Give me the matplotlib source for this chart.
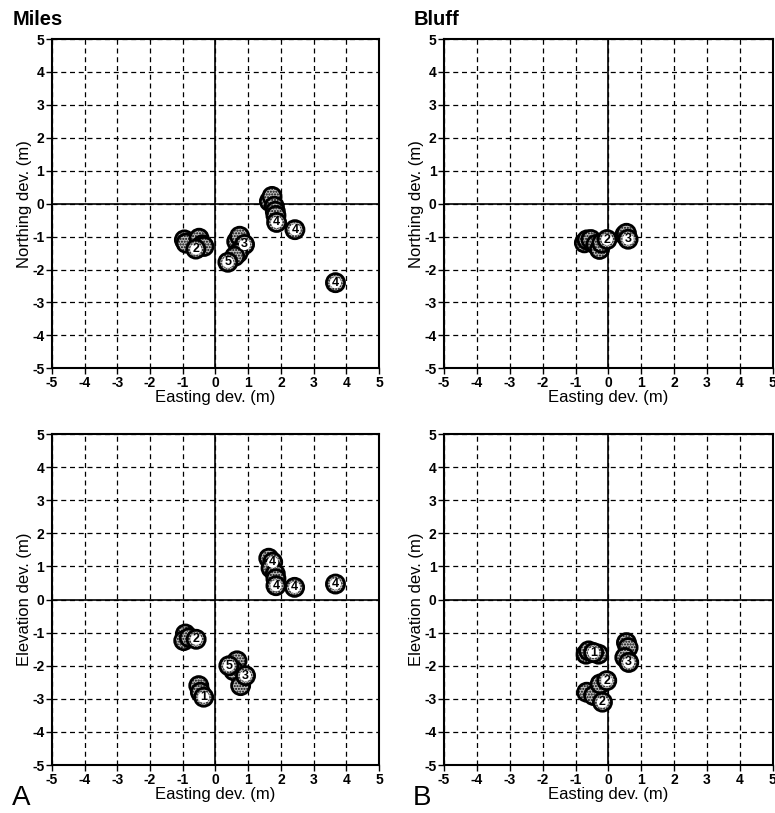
import matplotlib
matplotlib.use("Agg")
import matplotlib.pyplot as plt

plt.rcParams['font.family'] = ['Liberation Sans', 'DejaVu Sans']
plt.rcParams['hatch.linewidth'] = 1.0

# Miles: easting / northing / elevation deviations, label ("" = no number shown)
miles_e = [-0.95, -0.9, -0.5, -0.4, -0.35, -0.6,
           0.7, 0.65, 0.74, 0.89,
           0.69, 0.59, 0.38,
           1.65, 1.73, 1.8, 1.83, 1.85, 1.87, 2.43, 3.67]
miles_n = [-1.1, -1.2, -1.05, -1.25, -1.3, -1.38,
           -1.1, -1.15, -0.99, -1.24,
           -1.5, -1.6, -1.78,
           0.07, 0.22, -0.08, -0.23, -0.36, -0.57, -0.79, -2.4]
miles_n_lab = ["", "", "", "", "", "2",
               "", "", "", "3",
               "", "", "5",
               "", "", "", "", "", "4", "4", "4"]

miles_el_e = [-0.92, -0.97, -0.8, -0.59,
              -0.51, -0.46, -0.36,
              0.66, 0.56, 0.41,
              0.77, 0.92,
              1.63, 1.75, 1.7, 1.83, 1.85, 1.85, 2.42, 3.67]
miles_el = [-1.04, -1.24, -1.15, -1.2,
            -2.6, -2.8, -2.95,
            -1.85, -2.15, -2.0,
            -2.6, -2.3,
            1.25, 1.13, 0.95, 0.78, 0.63, 0.42, 0.37, 0.47]
miles_el_lab = ["", "", "", "2",
                "", "", "1",
                "", "", "5",
                "", "3",
                "", "4", "", "", "", "4", "4", "4"]

# Bluff
bluff_e = [-0.73, -0.65, -0.53, -0.38, -0.27, -0.2, -0.04,
           0.5, 0.55, 0.6]
bluff_n = [-1.19, -1.1, -1.09, -1.24, -1.39, -1.2, -1.09,
           -0.95, -0.9, -1.08]
bluff_n_lab = ["", "", "", "", "", "", "2",
               "", "", "3"]

bluff_el_e = [-0.68, -0.6, -0.3, -0.45,
              0.55, 0.6, 0.5, 0.62,
              -0.66, -0.45, -0.25, -0.05, -0.18]
bluff_el = [-1.65, -1.55, -1.65, -1.6,
            -1.3, -1.45, -1.75, -1.9,
            -2.8, -2.9, -2.55, -2.45, -3.1]
bluff_el_lab = ["", "", "", "1",
                "", "", "", "3",
                "", "", "", "2", "2"]

ticks = list(range(-5, 6))


def draw_panel(ax, xs, ys, labels, ylabel):
    ax.set_xlim(-5, 5)
    ax.set_ylim(-5, 5)
    ax.set_xticks(ticks)
    ax.set_yticks(ticks)
    ax.set_xticklabels([str(t) for t in ticks], fontweight='bold', fontsize=10)
    ax.set_yticklabels([str(t) for t in ticks], fontweight='bold', fontsize=10)
    ax.tick_params(direction='out', length=4, width=1, pad=1.5)
    ax.grid(True, color='black', linestyle=(0, (4, 3)), linewidth=0.9)
    ax.axhline(0, color='black', linewidth=1.2, zorder=2)
    ax.axvline(0, color='black', linewidth=1.2, zorder=2)
    for s in ax.spines.values():
        s.set_linewidth(1.5)
    ax.set_xlabel("Easting dev. (m)", fontsize=12, labelpad=0)
    ax.set_ylabel(ylabel, fontsize=12, labelpad=0)

    for x, y, lab in zip(xs, ys, labels):
        ax.scatter([x], [y], s=170, facecolor='#bdbdbd', edgecolor='black',
                   linewidth=2.0, hatch='......', zorder=3)
        if lab:
            ax.scatter([x], [y], s=65, facecolor='white', edgecolor='none', zorder=4)
            ax.text(x, y, lab, ha='center', va='center', fontsize=9,
                    fontweight='bold', zorder=5)


fig = plt.figure(figsize=(7.75, 8.13), dpi=100)
ax1 = fig.add_axes([0.067, 0.547, 0.422, 0.405])
ax2 = fig.add_axes([0.573, 0.547, 0.424, 0.405])
ax3 = fig.add_axes([0.067, 0.059, 0.422, 0.407])
ax4 = fig.add_axes([0.573, 0.059, 0.424, 0.407])

draw_panel(ax1, miles_e, miles_n, miles_n_lab, "Northing dev. (m)")
draw_panel(ax2, bluff_e, bluff_n, bluff_n_lab, "Northing dev. (m)")
draw_panel(ax3, miles_el_e, miles_el, miles_el_lab, "Elevation dev. (m)")
draw_panel(ax4, bluff_el_e, bluff_el, bluff_el_lab, "Elevation dev. (m)")

fig.text(0.016, 0.976, "Miles", fontsize=14.5, fontweight='bold', va='center')
fig.text(0.534, 0.976, "Bluff", fontsize=14.5, fontweight='bold', va='center')
fig.text(0.015, 0.018, "A", fontsize=20, va='center')
fig.text(0.533, 0.018, "B", fontsize=20, va='center')

plt.savefig("out.png", dpi=100)
